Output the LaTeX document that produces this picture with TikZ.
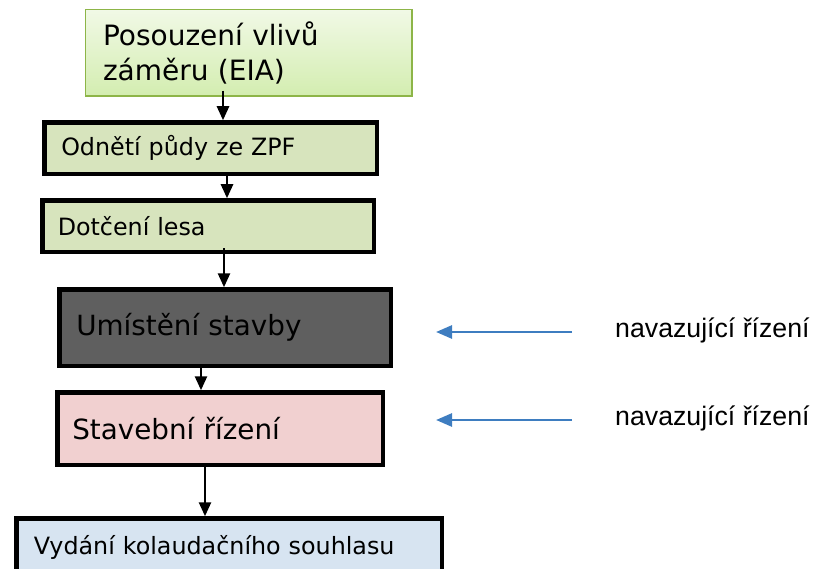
\documentclass[tikz,border=0pt]{standalone}
\usepackage{fontspec}
\setmainfont{DejaVu Sans}
\newfontfamily\arialfont{Liberation Sans}
\usetikzlibrary{arrows.meta}
\definecolor{eiaborder}{HTML}{8DB548}
\definecolor{eiatop}{HTML}{F1F9E6}
\definecolor{eiabot}{HTML}{D3EDB0}
\definecolor{olivefill}{HTML}{D7E4BD}
\definecolor{darkfill}{HTML}{5F5F5F}
\definecolor{pinkfill}{HTML}{F1D0D0}
\definecolor{bluefill}{HTML}{D7E4F1}
\definecolor{arrowblue}{HTML}{3E7DC0}
\tikzset{
  stagebox/.style={draw=black, line width=4.5pt, anchor=north west, inner ysep=0pt, align=left},
  smalltext/.style={font=\fontsize{23.8}{28}\selectfont},
  bigtext/.style={font=\fontsize{27.8}{33}\selectfont},
  flowarrow/.style={line width=2.5pt, -{Triangle[width=12pt,length=14pt]}},
  bluearrow/.style={draw=arrowblue, line width=2.7pt, -{Triangle[width=13pt,length=16pt]}},
  sidelabel/.style={anchor=west, font=\arialfont\fontsize{26.7}{31}\selectfont, inner sep=0pt}
}
\begin{document}
\begin{tikzpicture}[x=1pt,y=-1pt]
\useasboundingbox (0,0) rectangle (821,569);
% boxes
\node[draw=eiaborder, line width=1.5pt, top color=eiatop, bottom color=eiabot, anchor=north west,
      minimum width=326.5pt, minimum height=86.5pt, inner ysep=0pt, inner xsep=17.5pt, text width=291.5pt, align=left,
      font=\fontsize{28}{35}\selectfont] (eia) at (84.75,8.75) {Posouzení vlivů\\záměru (EIA)};
\node[stagebox, smalltext, fill=olivefill, minimum width=332.5pt, minimum height=51.5pt,
      inner xsep=16.75pt, text width=299pt] (zpf) at (42.25,120.25) {Odnětí půdy ze ZPF};
\node[stagebox, smalltext, fill=olivefill, minimum width=331.5pt, minimum height=51.5pt,
      inner xsep=15.25pt, text width=301pt] (les) at (40.25,198.25) {Dotčení lesa};
\node[stagebox, bigtext, fill=darkfill, minimum width=331.5pt, minimum height=76.5pt,
      inner xsep=16.75pt, text width=298pt] (umist) at (57.25,287.25) {Umístění stavby};
\node[stagebox, bigtext, fill=pinkfill, minimum width=325.5pt, minimum height=72.5pt,
      inner xsep=14.75pt, text width=296pt] (stav) at (55.25,390.25) {Stavební řízení};
\node[stagebox, smalltext, fill=bluefill, minimum width=425.5pt, minimum height=58.75pt,
      inner xsep=17.25pt, text width=391pt] (kol) at (14.25,516.25) {Vydání kolaudačního souhlasu};
% flow arrows
\draw[flowarrow] (eia.south -| 223,0) ++(0,-6) -- (zpf.north -| 223,0);
\draw[flowarrow] (zpf.south -| 227,0) ++(0,-3) -- (les.north -| 227,0);
\draw[flowarrow] (les.south -| 224,0) ++(0,-6) -- (umist.north -| 224,0);
\draw[flowarrow] (umist.south -| 201,0) -- (stav.north -| 201,0);
\draw[flowarrow] (stav.south -| 205,0) -- (kol.north -| 205,0);
% side labels
\node[sidelabel] (nav1) at (615,330) {navazující řízení};
\node[sidelabel] (nav2) at (615,418) {navazující řízení};
\coordinate (b1s) at (572,332);
\coordinate (b1e) at (436,332);
\coordinate (b2s) at (572,420);
\coordinate (b2e) at (436,420);
\draw[bluearrow] (b1s) -- (b1e);
\draw[bluearrow] (b2s) -- (b2e);
\end{tikzpicture}
\end{document}
